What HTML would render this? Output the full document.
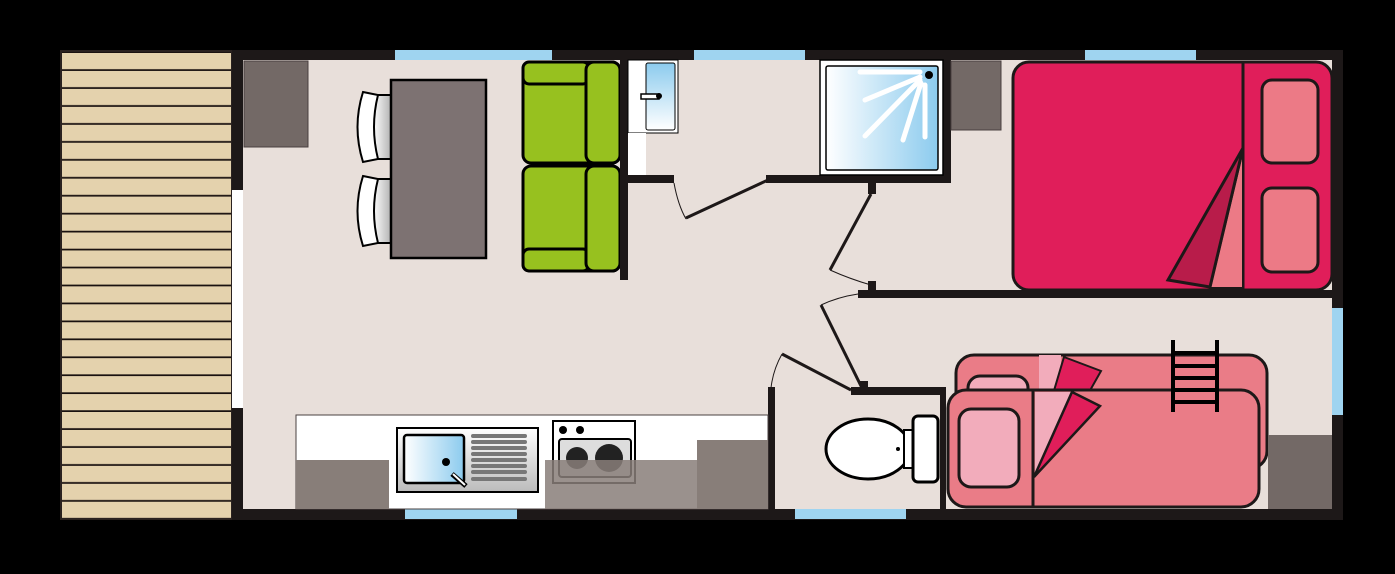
<!DOCTYPE html>
<html><head><meta charset="utf-8"><style>html,body{margin:0;padding:0;background:#000}svg{display:block}</style></head>
<body>
<svg width="1395" height="574" viewBox="0 0 1395 574" xmlns="http://www.w3.org/2000/svg">
<defs>
<pattern id="plank" x="0" y="53" width="20" height="17.95" patternUnits="userSpaceOnUse">
<rect width="20" height="17.95" fill="#e4d2ad"/><rect y="16.2" width="20" height="1.9" fill="#1a1210"/>
</pattern>
<linearGradient id="blue" x1="0" x2="1"><stop offset="0" stop-color="#fff"/><stop offset="1" stop-color="#8ccbee"/></linearGradient>
<linearGradient id="blueV" x1="0" y1="0" x2="0" y2="1"><stop offset="0" stop-color="#8ccbee"/><stop offset="1" stop-color="#fff"/></linearGradient>
<linearGradient id="chair" x1="0" x2="1"><stop offset="0" stop-color="#fff"/><stop offset="1" stop-color="#aaa"/></linearGradient>
<linearGradient id="steel" x1="0" y1="0" x2="0" y2="1"><stop offset="0" stop-color="#fff"/><stop offset="1" stop-color="#bbb"/></linearGradient>
</defs>
<rect width="1395" height="574" fill="#000"/>
<rect x="60" y="50" width="173" height="470" fill="#2a2220"/>
<rect x="62" y="52" width="169" height="466" fill="url(#plank)"/>
<rect x="232" y="50" width="1111" height="470" fill="#1d1818"/>
<rect x="243" y="60" width="1089" height="449" fill="#e8dfda"/>
<rect x="232" y="190" width="11" height="218" fill="#fff"/>
<g fill="#9fd4f0">
<rect x="395" y="50" width="157" height="10"/><rect x="694" y="50" width="111" height="10"/><rect x="1085" y="50" width="111" height="10"/>
<rect x="405" y="509" width="112" height="10"/><rect x="795" y="509" width="111" height="10"/>
<rect x="1332" y="308" width="11" height="107"/>
</g>
<rect x="244" y="61" width="64" height="86" fill="#736966" stroke="#4a4040" stroke-width="1"/>
<g stroke="#000" stroke-width="2">
<rect x="373" y="95" width="20" height="64" fill="url(#chair)"/>
<path d="M363 92 L378 95 Q370 127 378 159 L363 162 Q352 127 363 92Z" fill="#fff"/>
<rect x="373" y="179" width="20" height="64" fill="url(#chair)"/>
<path d="M363 176 L378 179 Q370 211 378 243 L363 246 Q352 211 363 176Z" fill="#fff"/>
</g>
<rect x="391" y="80" width="95" height="178" fill="#7d7272" stroke="#000" stroke-width="2.5"/>
<g fill="#97c11f" stroke="#000" stroke-width="3">
<rect x="523" y="62" width="97" height="101" rx="8"/>
<rect x="523" y="62" width="66" height="22" rx="6"/>
<rect x="586" y="62" width="34" height="101" rx="8"/>
<rect x="523" y="166" width="97" height="105" rx="8"/>
<rect x="523" y="249" width="66" height="22" rx="6"/>
<rect x="586" y="166" width="34" height="105" rx="8"/>
</g>
<g fill="#1d1818">
<rect x="620" y="60" width="8" height="220"/>
<rect x="628" y="175" width="46" height="8"/>
<rect x="766" y="175" width="185" height="8"/>
<rect x="943" y="60" width="8" height="123"/>
<rect x="868" y="183" width="8" height="11"/>
<rect x="868" y="281" width="8" height="11"/>
<rect x="858" y="290" width="474" height="8"/>
<rect x="851" y="387" width="95" height="8"/>
<rect x="860" y="381" width="8" height="9"/>
<rect x="940" y="387" width="6" height="122"/>
<rect x="768" y="387" width="7" height="122"/>
</g>
<rect x="628" y="60" width="50" height="73" fill="#fff" stroke="#000" stroke-width="1"/>
<rect x="628" y="133" width="18" height="42" fill="#fff"/>
<rect x="646" y="63" width="29" height="67" rx="2" fill="url(#blueV)" stroke="#000" stroke-width="1"/>
<rect x="641" y="94" width="18" height="5" fill="#fff" stroke="#000" stroke-width="1.5"/><circle cx="659" cy="96" r="3" fill="#000"/>
<g stroke="#1d1818" stroke-width="3" fill="none">
<line x1="768" y1="180" x2="686" y2="218"/>
<line x1="871" y1="194" x2="830" y2="270"/>
<line x1="862" y1="388" x2="821" y2="305"/>
<line x1="851" y1="390" x2="782" y2="354"/>
</g>
<g stroke="#1d1818" stroke-width="1" fill="none">
<path d="M674 183 Q678 205 686 219"/>
<path d="M830 270 Q850 279 871 285"/>
<path d="M821 305 Q838 297 858 294"/>
<path d="M782 354 Q773 370 771 388"/>
</g>
<rect x="820" y="60" width="123" height="115" fill="#fff" stroke="#000" stroke-width="1.5"/>
<rect x="826" y="66" width="112" height="104" rx="2" fill="url(#blue)" stroke="#000" stroke-width="1.5"/>
<g stroke="#fff" stroke-width="5" stroke-linecap="round">
<line x1="860" y1="72" x2="920" y2="72"/><line x1="865" y1="100" x2="920" y2="77"/>
<line x1="865" y1="136" x2="920" y2="80"/><line x1="903" y1="140" x2="921" y2="83"/><line x1="925" y1="85" x2="925" y2="137"/>
</g>
<circle cx="929" cy="75" r="4" fill="#000"/>
<rect x="951" y="61" width="50" height="69" fill="#736966" stroke="#4a4040"/>
<rect x="1013" y="62" width="319" height="228" rx="16" fill="#e01e5a" stroke="#1d1818" stroke-width="3"/>
<line x1="1243" y1="62" x2="1243" y2="290" stroke="#1d1818" stroke-width="3"/>
<rect x="1262" y="80" width="56" height="83" rx="10" fill="#ec7a86" stroke="#1d1818" stroke-width="3"/>
<rect x="1262" y="188" width="56" height="84" rx="10" fill="#ec7a86" stroke="#1d1818" stroke-width="3"/>
<path d="M1243 150 L1210 288 L1243 288Z" fill="#ec7a86" stroke="#1d1818" stroke-width="2"/>
<path d="M1243 148 L1168 280 L1210 287Z" fill="#b81c4a" stroke="#1d1818" stroke-width="3"/>
<rect x="956" y="355" width="311" height="114" rx="18" fill="#ea7c87" stroke="#1d1818" stroke-width="3"/>
<rect x="1039" y="355" width="22" height="60" fill="#f2acbb"/>
<path d="M1064 357 L1101 371 L1079 410 L1050 404Z" fill="#e01e5a" stroke="#1d1818" stroke-width="2"/>
<rect x="968" y="376" width="60" height="40" rx="12" fill="#f2acbb" stroke="#1d1818" stroke-width="3"/>
<rect x="948" y="390" width="311" height="117" rx="18" fill="#ea7c87" stroke="#1d1818" stroke-width="3"/>
<line x1="1033" y1="390" x2="1033" y2="507" stroke="#1d1818" stroke-width="3"/>
<path d="M1071 392 L1035 392 L1035 475Z" fill="#f2acbb"/>
<path d="M1072 392 L1100 406 L1034 477Z" fill="#e01e5a" stroke="#1d1818" stroke-width="2.5"/>
<rect x="959" y="409" width="60" height="78" rx="12" fill="#f2acbb" stroke="#1d1818" stroke-width="3"/>
<g stroke="#000" stroke-width="4">
<line x1="1173" y1="340" x2="1173" y2="412"/><line x1="1217" y1="340" x2="1217" y2="412"/>
<line x1="1173" y1="353" x2="1217" y2="353"/><line x1="1173" y1="366" x2="1217" y2="366"/>
<line x1="1173" y1="378" x2="1217" y2="378"/><line x1="1173" y1="390" x2="1217" y2="390"/><line x1="1173" y1="402" x2="1217" y2="402"/>
</g>
<rect x="1268" y="435" width="64" height="74" fill="#736966"/>
<ellipse cx="868" cy="449" rx="42" ry="30" fill="#fff" stroke="#000" stroke-width="3"/>
<rect x="904" y="430" width="10" height="38" fill="#fff" stroke="#000" stroke-width="2"/>
<rect x="913" y="416" width="25" height="66" rx="5" fill="#fff" stroke="#000" stroke-width="3"/>
<circle cx="898" cy="449" r="2" fill="#000"/>
<rect x="296" y="415" width="472" height="94" fill="#fff" stroke="#4a4040" stroke-width="1"/>
<rect x="296" y="460" width="93" height="49" fill="#887e79"/>
<rect x="697" y="440" width="71" height="69" fill="#887e79"/>
<rect x="397" y="428" width="141" height="64" fill="url(#steel)" stroke="#000" stroke-width="2"/>
<rect x="404" y="435" width="60" height="48" rx="3" fill="url(#blue)" stroke="#000" stroke-width="2.5"/>
<circle cx="446" cy="462" r="4" fill="#000"/>
<g stroke="#777" stroke-width="4" stroke-linecap="round">
<line x1="473" y1="436" x2="525" y2="436"/><line x1="473" y1="442" x2="525" y2="442"/><line x1="473" y1="448" x2="525" y2="448"/>
<line x1="473" y1="454" x2="525" y2="454"/><line x1="473" y1="460" x2="525" y2="460"/><line x1="473" y1="466" x2="525" y2="466"/>
<line x1="473" y1="472" x2="525" y2="472"/><line x1="473" y1="479" x2="525" y2="479"/>
</g>
<line x1="452" y1="474" x2="466" y2="486" stroke="#000" stroke-width="5"/>
<line x1="453" y1="474" x2="465" y2="485" stroke="#fff" stroke-width="2"/>
<rect x="553" y="421" width="82" height="62" fill="#fff" stroke="#000" stroke-width="2"/>
<circle cx="563" cy="430" r="4" fill="#000"/><circle cx="580" cy="430" r="4" fill="#000"/>
<rect x="559" y="439" width="72" height="38" rx="3" fill="#ddd" stroke="#000" stroke-width="2"/>
<circle cx="577" cy="458" r="11" fill="#222"/><circle cx="609" cy="458" r="14" fill="#222"/>
<rect x="545" y="460" width="152" height="49" fill="#887e79" opacity="0.85"/>
</svg>
</body></html>
